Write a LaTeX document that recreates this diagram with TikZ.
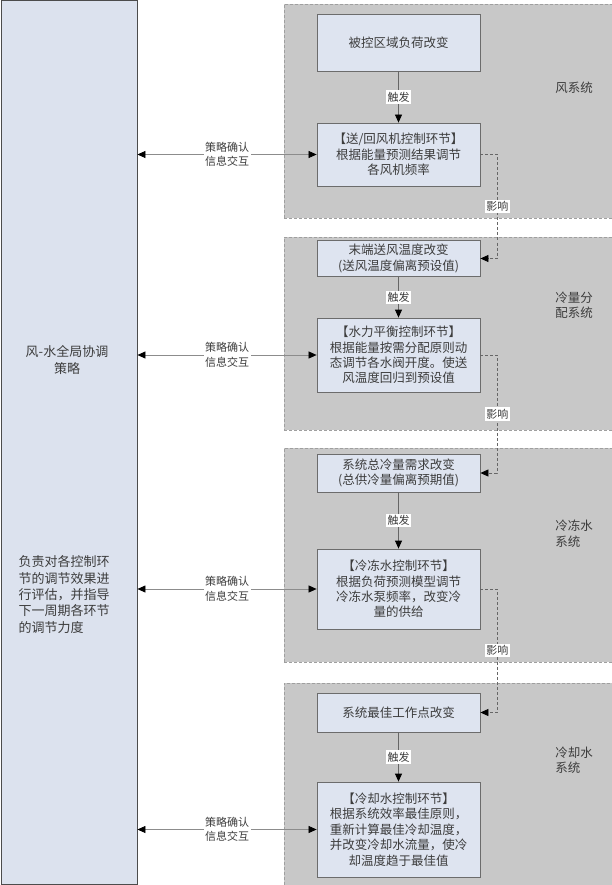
\documentclass[tikz,border=0pt]{standalone}
\usepackage{fontspec}
\setmainfont{Noto Sans CJK SC}
\usetikzlibrary{arrows.meta,positioning,calc}
\definecolor{boxblue}{HTML}{DEE4F0}
\definecolor{leftblue}{HTML}{DCE2EE}
\definecolor{panelgray}{HTML}{C8C8C8}
\definecolor{txtgray}{HTML}{3C3C3C}
\newcommand{\boxfont}{\fontsize{12.5}{15.4}\selectfont}
\newcommand{\tagfont}{\fontsize{11}{14.5}\selectfont}
\tikzstyle{box} = [rectangle, draw=gray!85!black, fill=boxblue, line width=0.8pt,
text width=155pt, text centered, inner sep=4pt, font=\boxfont, text=txtgray]
\tikzstyle{panel} = [rectangle, draw=gray!75, densely dashed, fill=panelgray,
minimum width=330pt, inner sep=0pt]
\tikzstyle{trigger} = [draw=gray!80!black, line width=0.8pt,
-{Triangle[length=8pt,width=7pt,color=black]}]
\tikzstyle{affect} = [trigger, dash pattern=on 3pt off 2pt]
\tikzstyle{exchange} = [draw=gray!90, line width=0.7pt,
{Triangle[length=8pt,width=7pt,color=black]}-{Triangle[length=8pt,width=7pt,color=black]}]
\tikzstyle{tag} = [fill=white, inner sep=1.5pt, font=\tagfont, text=txtgray, align=center]
\tikzstyle{sysname} = [font=\boxfont, text=txtgray, align=left]

\begin{document}
\begin{tikzpicture}[x=1pt, y=-1pt]
	\useasboundingbox (0,0) rectangle (612,885);
	% Background panels
	\node [panel, minimum height=214pt] (panel-1) at (449,111) {};
	\node [panel, minimum height=193pt] (panel-2) at (449,333.5) {};
	\node [panel, minimum height=214pt] (panel-3) at (449,555) {};
	\node [panel, minimum height=206pt] (panel-4) at (449,786) {};
	\node [sysname] (name-1) at (574,88) {风系统};
	\node [sysname] (name-2) at (574,305) {冷量分\\配系统};
	\node [sysname] (name-3) at (574,533.5) {冷冻水\\系统};
	\node [sysname] (name-4) at (574,760) {冷却水\\系统};
	% Global strategy
	\node [rectangle, draw=gray!60!black, fill=leftblue, line width=0.9pt,
	minimum width=136pt, minimum height=884pt] (strategy) at (69,442.5) {};
	\node [font=\fontsize{13}{16.3}\selectfont, text=txtgray, align=center]
	(strategy-title) at (67,360) {风-水全局协调\\策略};
	\node [font=\fontsize{13}{16.3}\selectfont, text=txtgray, align=left, anchor=west]
	(strategy-note) at (15,594.5) {负责对各控制环\\节的调节效果进\\行评估，并指导\\下一周期各环节\\的调节力度};
	% Place nodes
	\node [box, minimum height=57pt] (change-1) at (398.5,42.5) {被控区域负荷改变};
	\node [box, minimum height=63pt, below of=change-1, node distance=112pt] (ctrl-1)
	{【送/回风机控制环节】\\根据能量预测结果调节\\各风机频率};
	\node [box, minimum height=35pt, below of=ctrl-1, node distance=104pt] (change-2)
	{末端送风温度改变\\(送风温度偏离预设值)};
	\node [box, minimum height=74pt, below of=change-2, node distance=96.5pt] (ctrl-2)
	{【水力平衡控制环节】\\根据能量按需分配原则动\\态调节各水阀开度。使送\\风温度回归到预设值};
	\node [box, minimum height=38pt, below of=ctrl-2, node distance=118pt] (change-3)
	{系统总冷量需求改变\\(总供冷量偏离预期值)};
	\node [box, minimum height=80pt, below of=change-3, node distance=116pt] (ctrl-3)
	{【冷冻水控制环节】\\根据负荷预测模型调节\\冷冻水泵频率，改变冷\\量的供给};
	\node [box, minimum height=39pt, below of=ctrl-3, node distance=123.5pt] (change-4)
	{系统最佳工作点改变};
	\node [box, minimum height=95pt, below of=change-4, node distance=117pt] (ctrl-4)
	{【冷却水控制环节】\\根据系统效率最佳原则，\\重新计算最佳冷却温度，\\并改变冷却水流量，使冷\\却温度趋于最佳值};
	% Triggers
	\path [trigger] (change-1) -- node [tag] {触发} (ctrl-1);
	\path [trigger] (change-2) -- node [tag] {触发} (ctrl-2);
	\path [trigger] (change-3) -- node [tag] {触发} (ctrl-3);
	\path [trigger] (change-4) -- node [tag] {触发} (ctrl-4);
	% Influence between systems
	\path [affect] (ctrl-1.east) -- ++(17,0) |- node [tag, pos=0.25] {影响} (change-2.east);
	\path [affect] (ctrl-2.east) -- ++(17,0) |- node [tag, pos=0.25] {影响} (change-3.east);
	\path [affect] (ctrl-3.east) -- ++(17,0) |- node [tag, pos=0.25] {影响} (change-4.east);
	% Strategy exchange
	\path [exchange] (strategy.east |- ctrl-1) -- node [tag] {策略确认\\信息交互} (ctrl-1);
	\path [exchange] (strategy.east |- ctrl-2) -- node [tag] {策略确认\\信息交互} (ctrl-2);
	\path [exchange] (strategy.east |- ctrl-3) -- node [tag] {策略确认\\信息交互} (ctrl-3);
	\path [exchange] (strategy.east |- ctrl-4) -- node [tag] {策略确认\\信息交互} (ctrl-4);
\end{tikzpicture}
\end{document}
